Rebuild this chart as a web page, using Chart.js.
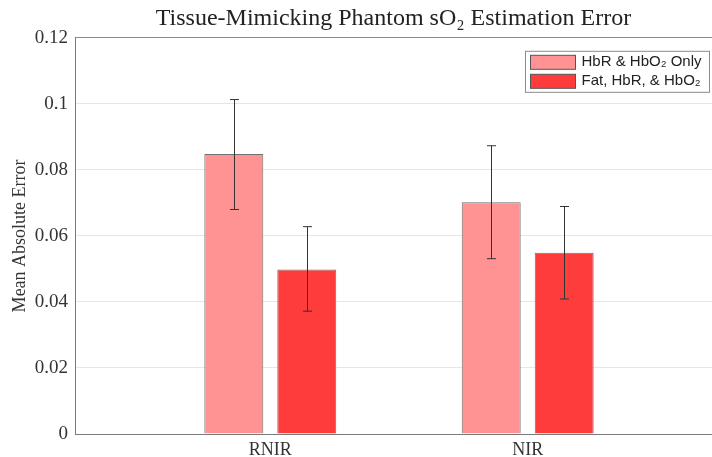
<!DOCTYPE html>
<html><head><meta charset="utf-8">
<script src="https://cdn.jsdelivr.net/npm/chart.js@4"></script>
<style>html,body{margin:0;padding:0;background:#fff;overflow:hidden}</style>
</head><body>
<canvas id="c" width="712" height="457"></canvas>
<script>
const categories = ['RNIR', 'NIR'];
const seriesNames = ['HbR & HbO₂ Only', 'Fat, HbR, & HbO₂'];
const hbOnly = [0.0848, 0.0702];
const hbOnlyLow = [0.0680, 0.0531];
const hbOnlyHigh = [0.1013, 0.0873];
const fatHb = [0.0498, 0.0549];
const fatHbLow = [0.0372, 0.0409];
const fatHbHigh = [0.0628, 0.0689];
const yTicks = [0, 0.02, 0.04, 0.06, 0.08, 0.1, 0.12];
const yTickLabels = ['0', '0.02', '0.04', '0.06', '0.08', '0.1', '0.12'];

const serif = '"Liberation Serif", "Times New Roman", serif';
const sans = '"Liberation Sans", Arial, sans-serif';
const toPts = arr => arr.map((v, i) => ({ x: i + 1, y: v }));

const errorBars = {
  id: 'errorBars',
  afterDatasetsDraw(chart) {
    const ctx = chart.ctx, ys = chart.scales.y;
    ctx.save();
    ctx.strokeStyle = '#333';
    ctx.lineWidth = 1;
    chart.data.datasets.forEach((ds, i) => {
      chart.getDatasetMeta(i).data.forEach((bar, j) => {
        const x = Math.round(bar.x) + 0.5;
        const yh = ys.getPixelForValue(ds.errHigh[j]);
        const yl = ys.getPixelForValue(ds.errLow[j]);
        ctx.beginPath();
        ctx.moveTo(x, yh); ctx.lineTo(x, yl);
        ctx.moveTo(x - 4.5, yh); ctx.lineTo(x + 4.5, yh);
        ctx.moveTo(x - 4.5, yl); ctx.lineTo(x + 4.5, yl);
        ctx.stroke();
      });
    });
    ctx.restore();
  }
};

const legendBox = {
  id: 'legendBox',
  afterDraw(chart) {
    const ctx = chart.ctx, ca = chart.chartArea;
    const right = ca.right - 2.5, left = right - 184, top = ca.top + 13.5, h = 41;
    ctx.save();
    ctx.fillStyle = '#fff';
    ctx.fillRect(left, top, 184, h);
    ctx.strokeStyle = '#8a8a8a';
    ctx.lineWidth = 1;
    ctx.strokeRect(left, top, 184, h);
    chart.data.datasets.forEach((ds, i) => {
      const cy = top + 11 + i * 19;
      ctx.fillStyle = ds.backgroundColor;
      ctx.fillRect(left + 5, cy - 7, 45, 14);
      ctx.strokeStyle = '#555';
      ctx.strokeRect(left + 5, cy - 7, 45, 14);
      ctx.fillStyle = '#222';
      ctx.font = '15px ' + sans;
      ctx.textBaseline = 'middle';
      ctx.textAlign = 'left';
      ctx.fillText(ds.label, left + 56, cy);
    });
    ctx.restore();
  }
};

new Chart(document.getElementById('c'), {
  type: 'bar',
  data: {
    datasets: [
      { label: seriesNames[0], data: toPts(hbOnly), errLow: hbOnlyLow, errHigh: hbOnlyHigh,
        backgroundColor: '#ff9393', borderColor: '#707070', borderWidth: 1 },
      { label: seriesNames[1], data: toPts(fatHb), errLow: fatHbLow, errHigh: fatHbHigh,
        backgroundColor: '#ff3c3c', borderColor: '#707070', borderWidth: 1 }
    ]
  },
  options: {
    responsive: false,
    animation: false,
    devicePixelRatio: 1,
    categoryPercentage: 0.567,
    barPercentage: 0.808,
    layout: { padding: { left: 9, right: 0, top: 0, bottom: 0 } },
    plugins: {
      legend: { display: false },
      tooltip: { enabled: false },
      title: {
        display: true, fullSize: false,
        text: 'Tissue-Mimicking Phantom sO₂ Estimation Error',
        font: { family: serif, size: 24, weight: 'normal' },
        color: '#222', padding: { top: 4, bottom: 5 }
      }
    },
    scales: {
      x: {
        type: 'linear', min: 0.2413, max: 2.716, offset: false,
        grid: { display: false, drawTicks: false },
        border: { display: true, color: '#7a7a7a' },
        afterBuildTicks: s => { s.ticks = categories.map((c, i) => ({ value: i + 1 })); },
        afterFit: s => { s.height = 23; },
        ticks: {
          callback: (v, i) => categories[i],
          font: { family: serif, size: 18 }, color: '#333', padding: 5,
          maxRotation: 0, autoSkip: false
        }
      },
      y: {
        min: 0, max: 0.12,
        afterBuildTicks: s => { s.ticks = yTicks.map(v => ({ value: v })); },
        afterFit: s => { s.width = 66; },
        grid: {
          drawTicks: false,
          color: c => (c.tick && Math.abs(c.tick.value - 0.12) < 1e-9) ? '#8a8a8a' : '#e6e6e6'
        },
        border: { display: true, color: '#7a7a7a' },
        ticks: {
          callback: (v, i) => yTickLabels[i],
          font: { family: serif, size: 19 }, color: '#333', padding: 7
        },
        title: {
          display: true, text: 'Mean Absolute Error',
          font: { family: serif, size: 18 }, color: '#333', padding: { top: 0, bottom: 0 }
        }
      }
    }
  },
  plugins: [errorBars, legendBox]
});
</script>
</body></html>
